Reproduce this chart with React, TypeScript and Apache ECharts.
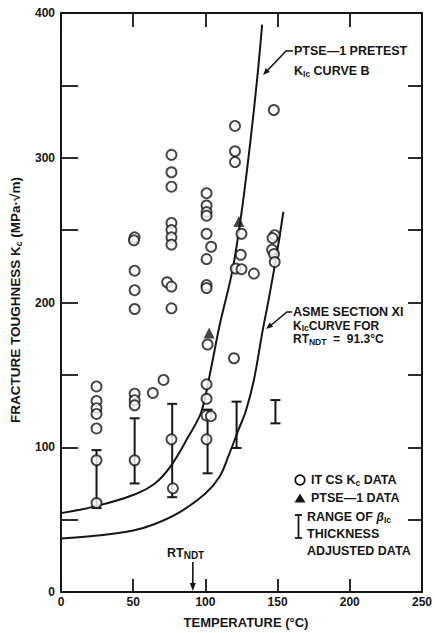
import React, { useEffect, useRef } from "react";
import * as echarts from "echarts";

// ---------- data (temperature °C, Kc MPa·√m) ----------
const itCsTemps = [
  24.6, 24.6, 24.6, 24.6, 24.6, 24.6, 24.6,
  51, 50.5, 51, 51, 51, 51, 51, 51, 51,
  63.6, 71,
  76.5, 76.5, 76.5, 76.5, 76.5, 76.5, 76.5, 73.5, 76.5, 76.5, 76.5, 77.5,
  100.8, 100.8, 100.8, 100.8, 100.8, 104, 100.8, 100.8, 100.8, 101.5, 100.8, 100.8, 100.8, 103.8, 100.8,
  120.5, 120.5, 120.5, 125, 124.5, 121, 125, 133.6, 119.8,
  147.4, 148, 146.5, 146.2, 147.5, 148,
];
const itCsKc = [
  142, 132, 127, 123, 113, 91, 61.5,
  245, 243, 222, 208.5, 195.5, 137, 132.5, 129, 91,
  137.5, 146.5,
  302, 290, 280, 255, 250, 245, 240, 214, 211, 196, 105.5, 71.6,
  275.5, 267, 262.5, 260, 247.5, 238.5, 230, 212, 210, 171, 143.5, 133.5, 122, 121.5, 105.5,
  322, 304.5, 297, 247.5, 233, 223.5, 223, 220, 161.5,
  333, 246.5, 244.5, 236.5, 233.5, 228,
];

const ptseTemps = [102.6, 123.2];
const ptseKc = [179, 256];

const rangeTemps = [24.6, 51, 77, 101.5, 121.6, 148.5];
const rangeLow = [58, 75, 65.5, 82, 99.5, 116.5];
const rangeHigh = [98, 120, 130, 126, 131.5, 132.6];

const curveBTemps = [0, 25, 50, 65, 76, 88, 97, 103, 110, 118.7, 125, 131, 136, 139.3];
const curveBKc = [54.5, 59.5, 67, 75, 87, 107, 124, 150, 185, 222, 262, 310, 356, 392];

const asmeTemps = [0, 25, 50, 65, 82, 100, 110, 116, 123.3, 128, 133.6, 139.3, 144, 150, 154];
const asmeKc = [37, 39, 42.5, 47, 55, 68, 80, 94, 113, 125, 146.5, 178.7, 203, 237, 262.7];

const xTicks = [0, 50, 100, 150, 200, 250];
const yTickLabels = [0, 100, 200, 300, 400];
const rtNdt = 91.3;

// ---------- styles ----------
const INK = "#161616";
const FONT = '"Liberation Sans", Arial, Helvetica, sans-serif';

const zip = (a: number[], b: number[]) => a.map((v, i) => [v, b[i]]);

const RICH = {
  s: { fontFamily: FONT, fontWeight: "bold", fontSize: 8.5, fill: INK, verticalAlign: "bottom", lineHeight: 8 },
  s2: { fontFamily: FONT, fontWeight: "bold", fontSize: 10, fill: INK, verticalAlign: "bottom", lineHeight: 10 },
  b: { fontFamily: FONT, fontWeight: "bold", fontStyle: "italic", fontSize: 12, fill: INK },
};

const txt = (x: number, y: number, text: string, size = 12, extra: any = {}) => ({
  type: "text",
  x,
  y,
  z: 100,
  ...extra,
  style: {
    text,
    fontFamily: FONT,
    fontWeight: "bold",
    fontSize: size,
    fill: INK,
    textAlign: "left",
    textVerticalAlign: "middle",
    lineHeight: size + 2,
    rich: RICH,
    ...(extra.style || {}),
  },
});

const seg = (x1: number, y1: number, x2: number, y2: number, w = 1.8) => ({
  type: "line",
  z: 100,
  shape: { x1, y1, x2, y2 },
  style: { stroke: INK, lineWidth: w },
});

const arrowHead = (fx: number, fy: number, tx: number, ty: number, len = 7, hw = 2.8) => {
  const dx = tx - fx, dy = ty - fy;
  const L = Math.hypot(dx, dy);
  const ux = dx / L, uy = dy / L;
  const bx = tx - ux * len, by = ty - uy * len;
  return {
    type: "polygon",
    z: 100,
    shape: { points: [[tx, ty], [bx - uy * hw, by + ux * hw], [bx + uy * hw, by - ux * hw]] },
    style: { fill: INK },
  };
};

function buildGraphic(ax: number) {
  return [
    // y title
    {
      type: "text", x: 15, y: 300, z: 100, rotation: Math.PI / 2,
      style: {
        text: "FRACTURE TOUGHNESS K{s|c} (MPa·√m)",
        fontFamily: FONT, fontWeight: "bold", fontSize: 13.5, fill: INK,
        textAlign: "center", textVerticalAlign: "middle", lineHeight: 17, rich: RICH,
      },
    },
    // x title
    {
      type: "text", x: 246, y: 622, z: 100,
      style: { text: "TEMPERATURE (°C)", fontFamily: FONT, fontWeight: "bold", fontSize: 13, fill: INK, textAlign: "center", textVerticalAlign: "middle" },
    },
    // PTSE-1 pretest annotation
    txt(294, 51, "PTSE—1 PRETEST", 12.5),
    txt(294, 71, "K{s|Ic} CURVE B", 12.5),
    { type: "polyline", z: 100, shape: { points: [[293, 51], [286, 51], [266, 72]] }, style: { stroke: INK, lineWidth: 1.6, fill: null } },
    arrowHead(286, 51, 263, 75),
    // ASME annotation
    txt(293, 312, "ASME SECTION XI", 12.5),
    txt(293, 325.5, "K{s|Ic}CURVE FOR", 12),
    txt(293, 339, "RT{s|NDT}  =  91.3°C", 12),
    { type: "polyline", z: 100, shape: { points: [[292, 312], [287, 312], [270, 326]] }, style: { stroke: INK, lineWidth: 1.6, fill: null } },
    arrowHead(287, 312, 266, 329),
    // legend
    { type: "circle", z: 100, shape: { cx: 300, cy: 480, r: 4.8 }, style: { fill: "#fff", stroke: INK, lineWidth: 1.8 } },
    txt(311, 480, "IT CS K{s|c} DATA", 12.5),
    { type: "polygon", z: 100, shape: { points: [[300, 493.5], [305.5, 502.5], [294.5, 502.5]] }, style: { fill: INK } },
    txt(311, 498, "PTSE—1 DATA", 12.5),
    seg(298.5, 515, 298.5, 538),
    seg(295, 515, 302, 515),
    seg(295, 538, 302, 538),
    txt(307, 517, "RANGE OF {b|β}{s|Ic}", 12.5),
    txt(307, 534, "THICKNESS", 12.5),
    txt(307, 551, "ADJUSTED DATA", 12.5),
    // RT_NDT marker
    txt(167, 553, "RT{s2|NDT}", 12.5),
    seg(ax, 562, ax, 585, 1.6),
    { type: "polygon", z: 100, shape: { points: [[ax - 3, 583], [ax + 3, 583], [ax, 591]] }, style: { fill: INK } },
  ];
}

const axisLineStyle = { color: INK, width: 2 };
const tickStyle = { color: INK, width: 1.8 };
const labelStyle = { color: INK, fontFamily: FONT, fontWeight: "bold" as const, fontSize: 12 };

const option: any = {
  animation: false,
  backgroundColor: "#fff",
  grid: { left: 61, right: 11, top: 13, bottom: 41, containLabel: false },
  xAxis: [
    {
      type: "value", min: 0, max: 250, interval: 50, position: "bottom",
      axisLine: { show: true, onZero: false, lineStyle: axisLineStyle },
      axisTick: { show: true, inside: true, length: 13, lineStyle: tickStyle },
      axisLabel: { ...labelStyle, margin: 4, formatter: (v: number) => (xTicks.includes(v) ? String(v) : "") },
      splitLine: { show: false },
    },
    {
      type: "value", min: 0, max: 250, interval: 50, position: "top",
      axisLine: { show: true, onZero: false, lineStyle: axisLineStyle },
      axisTick: { show: true, inside: true, length: 14, lineStyle: tickStyle },
      axisLabel: { show: false },
      splitLine: { show: false },
    },
  ],
  yAxis: [
    {
      type: "value", min: 0, max: 400, interval: 50, position: "left",
      axisLine: { show: true, onZero: false, lineStyle: axisLineStyle },
      axisTick: { show: true, inside: true, length: 17, lineStyle: tickStyle },
      axisLabel: { ...labelStyle, margin: 6, formatter: (v: number) => (yTickLabels.includes(v) ? String(v) : "") },
      splitLine: { show: false },
    },
    {
      type: "value", min: 0, max: 400, interval: 50, position: "right",
      axisLine: { show: true, onZero: false, lineStyle: axisLineStyle },
      axisTick: { show: true, inside: true, length: 14, lineStyle: tickStyle },
      axisLabel: { show: false },
      splitLine: { show: false },
    },
  ],
  series: [
    {
      name: "Curve B", type: "line", z: 2, smooth: 0.35, showSymbol: false, symbol: "none",
      data: zip(curveBTemps, curveBKc),
      lineStyle: { color: INK, width: 2 },
    },
    {
      name: "ASME", type: "line", z: 2, smooth: 0.35, showSymbol: false, symbol: "none",
      data: zip(asmeTemps, asmeKc),
      lineStyle: { color: INK, width: 2 },
    },
    {
      name: "Range", type: "custom", z: 3,
      data: rangeTemps.map((t, i) => [t, rangeLow[i], rangeHigh[i]]),
      encode: { x: 0, y: [1, 2] },
      renderItem: (params: any, api: any) => {
        const t = api.value(0);
        const lo = api.coord([t, api.value(1)]);
        const hi = api.coord([t, api.value(2)]);
        const hw = 5;
        const st = { stroke: INK, lineWidth: 2 };
        return {
          type: "group",
          children: [
            { type: "line", shape: { x1: lo[0], y1: lo[1], x2: hi[0], y2: hi[1] }, style: st },
            { type: "line", shape: { x1: lo[0] - hw, y1: lo[1], x2: lo[0] + hw, y2: lo[1] }, style: st },
            { type: "line", shape: { x1: hi[0] - hw, y1: hi[1], x2: hi[0] + hw, y2: hi[1] }, style: st },
          ],
        };
      },
    },
    {
      name: "IT CS Kc", type: "scatter", z: 4, symbol: "circle", symbolSize: 10,
      data: zip(itCsTemps, itCsKc),
      itemStyle: { color: "#fff", borderColor: INK, borderWidth: 1.9 },
    },
    {
      name: "PTSE-1", type: "scatter", z: 5, symbol: "triangle", symbolSize: 11,
      data: zip(ptseTemps, ptseKc),
      itemStyle: { color: INK },
    },
  ],
};

export default function App() {
  const ref = useRef<HTMLDivElement>(null);
  useEffect(() => {
    if (!ref.current) return;
    const chart = echarts.init(ref.current, null, { renderer: "svg" });
    chart.setOption(option);
    const p = chart.convertToPixel({ gridIndex: 0 }, [rtNdt, 0]) as number[];
    chart.setOption({ graphic: buildGraphic(p[0]) });
    return () => chart.dispose();
  }, []);
  return (
    <div
      ref={ref}
      style={{ position: "fixed", left: 0, top: 0, width: 435, height: 633, background: "#fff" }}
    />
  );
}
